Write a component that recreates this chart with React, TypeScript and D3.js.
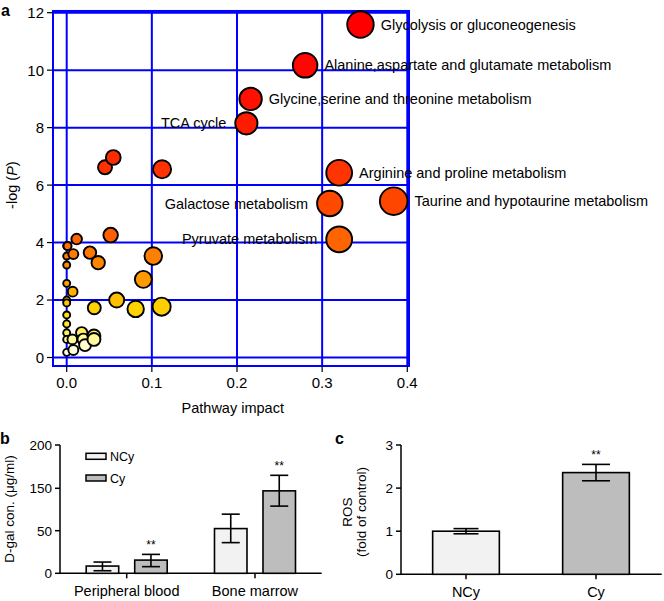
import React from "react";
import * as d3 from "d3";

// ---------- Panel a data ----------
const impact = [
  0.345, 0.28, 0.216, 0.211, 0.32, 0.309, 0.384, 0.32,
  0.0547, 0.045, 0.112, 0.0516, 0.0117, 0.001,
  0.0, 0.0078, 0.0, 0.0273, 0.037, 0.0, 0.1017, 0.09,
  0.0, 0.007, 0.0, 0.0, 0.0587, 0.0324, 0.081, 0.1115,
  0.0, 0.0, 0.0, 0.0176, 0.032, 0.0, 0.0066, 0.0195, 0.032, 0.0215, 0.0078, 0.0,
];
const negLogP = [
  11.59, 10.17, 9.0, 8.15, 6.43, 5.36, 5.44, 4.11,
  6.96, 6.62, 6.55, 4.26, 4.12, 3.88,
  3.88, 3.6, 3.53, 3.65, 3.3, 3.22, 3.53, 2.72,
  2.58, 2.29, 2.0, 1.9, 2.0, 1.73, 1.69, 1.77,
  1.48, 1.17, 0.86, 0.86, 0.75, 0.63, 0.63, 0.63, 0.63, 0.43, 0.26, 0.18,
];
const pathwayNames = [
  "Glycolysis or gluconeogenesis",
  "Alanine,aspartate and glutamate metabolism",
  "Glycine,serine and threonine metabolism",
  "TCA cycle",
  "Arginine and proline metabolism",
  "Galactose metabolism",
  "Taurine and hypotaurine metabolism",
  "Pyruvate metabolism",
];
const labelSide = ["right", "right", "right", "left", "right", "left", "right", "left"];
const xTicks = [0, 0.1, 0.2, 0.3, 0.4];
const yTicks = [0, 2, 4, 6, 8, 10, 12];

// ---------- Panel b data ----------
const tissues = ["Peripheral blood", "Bone marrow"];
const groups = ["NCy", "Cy"];
const dgalNCy = [8.5, 55];
const dgalCy = [15.5, 144];
const dgalNCyLow = [3, 36];
const dgalNCyHigh = [13.2, 89];
const dgalCyLow = [7.8, 108];
const dgalCyHigh = [22.2, 165];
const dgalSig = ["**", "**"];
const bTicks = [0, 50, 150, 200];

// ---------- Panel c data ----------
const rosMean = [1.0, 2.36];
const rosErr = [0.06, 0.19];
const rosSig = ["", "**"];
const cTicks = [0, 1, 2, 3];

const FONT = "'Liberation Sans', Arial, Helvetica, sans-serif";
const fills = { NCy: "#f2f2f2", Cy: "#bdbdbd" } as Record<string, string>;

function PanelA() {
  const x = d3.scaleLinear().domain([0, 0.4]).range([66.7, 407.3]);
  const y = d3.scaleLinear().domain([0, 12]).range([357.5, 12.7]);
  const x0 = x(-0.0161), x1 = x(0.402);
  const y0 = y(-0.296), y1 = y(12.06);
  const r = d3.scaleSqrt().domain([0, 0.4]).range([3.5, 14]);
  const color = d3
    .scaleLinear<string>()
    .domain([0, 0.5, 0.9, 1.5, 2.0, 2.7, 3.5, 4.2, 5.5, 7, 9, 11])
    .range(["#ffffff", "#ffffc0", "#ffef50", "#ffe000", "#ffbf00", "#ff9a00", "#ff8000", "#ff6000", "#ff4500", "#ff2a00", "#ff1000", "#ff0000"])
    .clamp(true);
  const pts = impact.map((v, i) => ({ x: v, y: negLogP[i], i }));
  const order = [...pts].sort((a, b) => a.x - b.x);
  const blue = "#0000ff";
  return (
    <g>
      <text x={1} y={16} fontSize={16} fontWeight="bold" fontFamily={FONT}>a</text>
      {xTicks.map((t) => (
        <line key={"gx" + t} x1={x(t)} x2={x(t)} y1={y0} y2={y1} stroke={blue} strokeWidth={2} />
      ))}
      {yTicks.map((t) => (
        <line key={"gy" + t} x1={x0} x2={x1} y1={y(t)} y2={y(t)} stroke={blue} strokeWidth={2} />
      ))}
      <rect x={x0} y={y1} width={x1 - x0} height={y0 - y1} fill="none" stroke={blue} strokeWidth={2} />
      {yTicks.map((t) => (
        <g key={"ty" + t}>
          <line x1={x0 - 6} x2={x0} y1={y(t)} y2={y(t)} stroke="#000" strokeWidth={1.2} />
          <text x={x0 - 9} y={y(t)} dy="0.36em" textAnchor="end" fontSize={15} fontFamily={FONT}>{t}</text>
        </g>
      ))}
      {xTicks.map((t) => (
        <g key={"tx" + t}>
          <line x1={x(t)} x2={x(t)} y1={y0} y2={y0 + 6} stroke="#000" strokeWidth={1.2} />
          <text x={x(t)} y={y0 + 22} textAnchor="middle" fontSize={15} fontFamily={FONT}>{t.toFixed(1)}</text>
        </g>
      ))}
      <text x={x(0.195)} y={413} textAnchor="middle" fontSize={14.5} fontFamily={FONT}>Pathway impact</text>
      <text transform={`translate(17,${y(6)}) rotate(-90)`} textAnchor="middle" fontSize={14.5} fontFamily={FONT}>
        -log (<tspan fontStyle="italic">P</tspan>)
      </text>
      {order.map((p) => (
        <circle key={"c" + p.i} cx={x(p.x)} cy={y(p.y)} r={r(p.x)} fill={color(p.y)} stroke="#000" strokeWidth={1.9} />
      ))}
      {pathwayNames.map((name, i) => {
        const cx = x(impact[i]);
        const cy = y(negLogP[i]);
        const rr = r(impact[i]);
        const right = labelSide[i] === "right";
        return (
          <text
            key={"l" + i}
            x={right ? cx + rr + 7 : cx - rr - 9}
            y={cy}
            dy="0.35em"
            textAnchor={right ? "start" : "end"}
            fontSize={14.5}
            fontFamily={FONT}
          >
            {name}
          </text>
        );
      })}
    </g>
  );
}

function PanelB() {
  const y = d3.scaleLinear().domain([0, 50, 150, 200]).range([573.3, 530.7, 488.3, 445]);
  const xg = d3.scalePoint<string>().domain(tissues).range([60, 321.7]).padding(0.52);
  const xs = d3.scaleBand<string>().domain(groups).range([-40.5, 40.5]).paddingInner(0.33);
  const means = [dgalNCy, dgalCy];
  const lows = [dgalNCyLow, dgalCyLow];
  const highs = [dgalNCyHigh, dgalCyHigh];
  const axisX0 = 60, axisX1 = 321.7;
  return (
    <g>
      <text x={0} y={444} fontSize={16} fontWeight="bold" fontFamily={FONT}>b</text>
      <line x1={axisX0} x2={axisX0} y1={y(200)} y2={y(0)} stroke="#000" strokeWidth={1.5} />
      <line x1={axisX0} x2={axisX1} y1={y(0)} y2={y(0)} stroke="#000" strokeWidth={1.5} />
      {bTicks.map((t) => (
        <g key={"bt" + t}>
          <line x1={axisX0 - 5} x2={axisX0} y1={y(t)} y2={y(t)} stroke="#000" strokeWidth={1.5} />
          <text x={axisX0 - 8} y={y(t)} dy="0.36em" textAnchor="end" fontSize={13.5} fontFamily={FONT}>{t}</text>
        </g>
      ))}
      {tissues.map((t) => (
        <g key={"bx" + t}>
          <line x1={xg(t)!} x2={xg(t)!} y1={y(0)} y2={y(0) + 5} stroke="#000" strokeWidth={1.5} />
          <text x={xg(t)!} y={y(0) + 23} textAnchor="middle" fontSize={14.5} fontFamily={FONT}>{t}</text>
        </g>
      ))}
      {groups.map((g, gi) =>
        tissues.map((t, ti) => {
          const bx = xg(t)! + xs(g)!;
          const bw = xs.bandwidth();
          const cx = bx + bw / 2;
          const m = means[gi][ti];
          return (
            <g key={g + t}>
              <rect x={bx} y={y(m)} width={bw} height={y(0) - y(m)} fill={fills[g]} stroke="#000" strokeWidth={1.6} />
              <line x1={cx} x2={cx} y1={y(highs[gi][ti])} y2={y(lows[gi][ti])} stroke="#000" strokeWidth={1.6} />
              <line x1={cx - 9} x2={cx + 9} y1={y(highs[gi][ti])} y2={y(highs[gi][ti])} stroke="#000" strokeWidth={1.6} />
              <line x1={cx - 9} x2={cx + 9} y1={y(lows[gi][ti])} y2={y(lows[gi][ti])} stroke="#000" strokeWidth={1.6} />
              {g === "Cy" && (
                <text x={cx} y={y(highs[gi][ti]) - 5} textAnchor="middle" fontSize={12} fontFamily={FONT}>{dgalSig[ti]}</text>
              )}
            </g>
          );
        })
      )}
      {groups.map((g, i) => (
        <g key={"lg" + g}>
          <rect x={86} y={453.3 + i * 21.7} width={20} height={6} fill={fills[g]} stroke="#000" strokeWidth={1.5} />
          <text x={110} y={456.3 + i * 21.7} dy="0.36em" fontSize={12.5} fontFamily={FONT}>{g}</text>
        </g>
      ))}
      <text transform={`translate(14,509) rotate(-90)`} textAnchor="middle" fontSize={13.5} fontFamily={FONT}>D-gal con. (μg/ml)</text>
    </g>
  );
}

function PanelC() {
  const y = d3.scaleLinear().domain([0, 3]).range([574.3, 445]);
  const x = d3.scalePoint<string>().domain(groups).range([401, 661]).padding(0.5);
  const bw = 66.7;
  const axisX0 = 401, axisX1 = 661.7;
  return (
    <g>
      <text x={335} y={444} fontSize={16} fontWeight="bold" fontFamily={FONT}>c</text>
      <line x1={axisX0} x2={axisX0} y1={y(3)} y2={y(0)} stroke="#000" strokeWidth={1.5} />
      <line x1={axisX0} x2={axisX1} y1={y(0)} y2={y(0)} stroke="#000" strokeWidth={1.5} />
      {cTicks.map((t) => (
        <g key={"ct" + t}>
          <line x1={axisX0 - 5} x2={axisX0} y1={y(t)} y2={y(t)} stroke="#000" strokeWidth={1.5} />
          <text x={axisX0 - 8} y={y(t)} dy="0.36em" textAnchor="end" fontSize={13.5} fontFamily={FONT}>{t}</text>
        </g>
      ))}
      {groups.map((g, i) => {
        const cx = x(g)!;
        const m = rosMean[i];
        const hi = m + rosErr[i];
        const lo = m - rosErr[i];
        const cap = i === 0 ? 12.5 : 14;
        return (
          <g key={"c" + g}>
            <line x1={cx} x2={cx} y1={y(0)} y2={y(0) + 5} stroke="#000" strokeWidth={1.5} />
            <text x={cx} y={y(0) + 23} textAnchor="middle" fontSize={14.5} fontFamily={FONT}>{g}</text>
            <rect x={cx - bw / 2} y={y(m)} width={bw} height={y(0) - y(m)} fill={fills[g]} stroke="#000" strokeWidth={1.6} />
            <line x1={cx} x2={cx} y1={y(hi)} y2={y(lo)} stroke="#000" strokeWidth={1.6} />
            <line x1={cx - cap} x2={cx + cap} y1={y(hi)} y2={y(hi)} stroke="#000" strokeWidth={1.6} />
            <line x1={cx - cap} x2={cx + cap} y1={y(lo)} y2={y(lo)} stroke="#000" strokeWidth={1.6} />
            {rosSig[i] && (
              <text x={cx} y={y(hi) - 5} textAnchor="middle" fontSize={12} fontFamily={FONT}>{rosSig[i]}</text>
            )}
          </g>
        );
      })}
      <text transform={`translate(352,512) rotate(-90)`} textAnchor="middle" fontSize={13.5} fontFamily={FONT}>ROS</text>
      <text transform={`translate(366,512) rotate(-90)`} textAnchor="middle" fontSize={13.5} fontFamily={FONT}>(fold of control)</text>
    </g>
  );
}

export default function App() {
  return (
    <svg width={664} height={601} style={{ position: "absolute", left: 0, top: 0, background: "#fff" }}>
      <PanelA />
      <PanelB />
      <PanelC />
    </svg>
  );
}
